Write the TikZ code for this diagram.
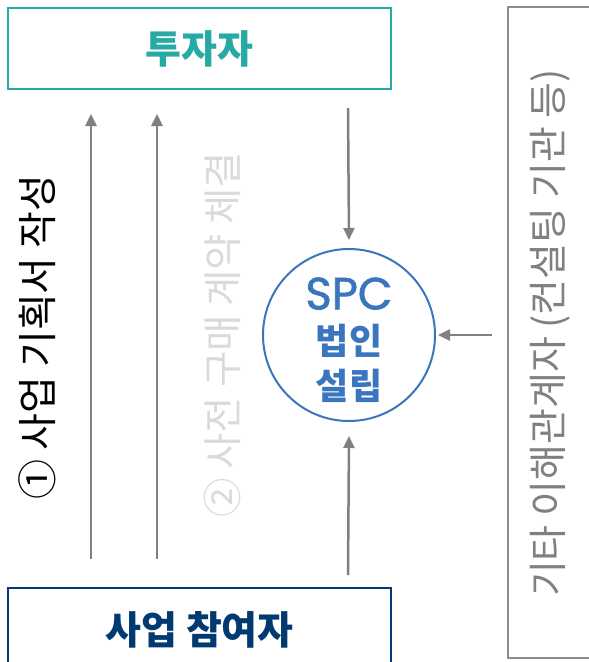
\documentclass[tikz,border=0pt]{standalone}
\usepackage{fontspec}
\setmainfont{Noto Sans CJK KR}
\newfontface\spcfont{Poppins}[FakeBold=1.6]
\usetikzlibrary{arrows.meta,calc}
\definecolor{tealc}{RGB}{38,170,165}
\definecolor{navyc}{RGB}{0,58,112}
\definecolor{bluec}{RGB}{58,118,190}
\definecolor{arrgray}{RGB}{128,128,128}
\definecolor{boxgray}{RGB}{140,140,140}
\definecolor{lightc}{RGB}{218,218,218}
\begin{document}
\begin{tikzpicture}[x=1pt,y=-1pt,
  arr/.style={draw=arrgray, line width=2.5pt, -{Triangle[length=12pt,width=11pt]}},
  bigbox/.style={draw, line width=2pt, inner sep=0pt, minimum width=383pt},
  vtext/.style={rotate=90, inner sep=0pt}]
\useasboundingbox (0,0) rectangle (589,662);
\node[bigbox, draw=tealc, text=tealc, minimum height=81pt,
  font=\fontsize{39}{44}\selectfont\bfseries] (inv) at (199.5,48.5) {투자자};
\node[bigbox, draw=navyc, text=navyc, minimum height=84pt,
  font=\fontsize{39}{44}\selectfont\bfseries] (part) at (199.5,630) {사업 참여자};
\node[draw=boxgray, line width=2pt, minimum width=84pt, minimum height=651pt, inner sep=0pt] (other) at (550,332.5) {};
\node[vtext, text=arrgray, font=\fontsize{39}{44}\selectfont] (otherlbl) at (550,333) {기타 이해관계자 (컨설팅 기관 등)};
\node[circle, draw=bluec, line width=2pt, minimum size=172pt, inner sep=0pt] (spc) at (349,335) {};
\node[text=bluec, align=center, inner sep=0pt,
  font=\fontsize{36}{45}\selectfont\bfseries] (spctxt) at (349,340) {{\spcfont\fontsize{45}{45}\selectfont SPC}\\법인\\설립};
\node[vtext, text=black, font=\fontsize{40}{44}\selectfont] (lbl1) at (37,337) {① 사업 기획서 작성};
\node[vtext, text=lightc, font=\fontsize{39.5}{44}\selectfont] (lbl2) at (222,335) {② 사전 구매 계약 체결};
\path (spc.east -| other.west) coordinate (rstart);
\draw[arr] ([shift={(84,-28)}]part.north west) -- ([shift={(84,24)}]inv.south west);
\draw[arr] ([shift={(150,-28)}]part.north west) -- ([shift={(150,24)}]inv.south west);
\draw[arr] ([shift={(341,18)}]inv.south west) -- ([shift={(0,-8)}]spc.north);
\draw[arr] ([shift={(341,-12)}]part.north west) -- ([shift={(0,14)}]spc.south);
\draw[arr] ([xshift=-15pt]rstart) -- ([xshift=2pt]spc.east);
\end{tikzpicture}
\end{document}
